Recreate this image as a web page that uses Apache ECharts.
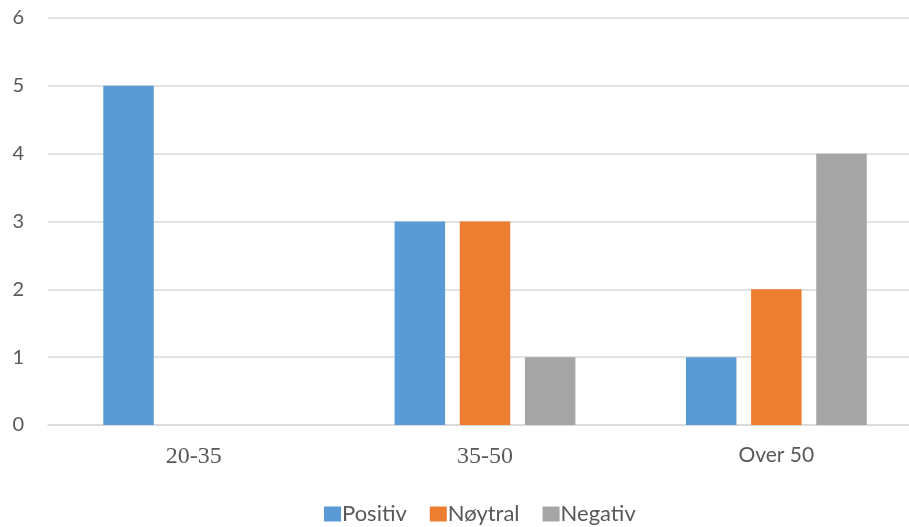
<!DOCTYPE html>
<html>
<head>
<meta charset="utf-8">
<script src="https://cdn.jsdelivr.net/npm/echarts@6/dist/echarts.min.js"></script>
<style>
  html, body { margin: 0; padding: 0; background: #fff; }
  #chart { width: 909px; height: 527px; }
</style>
</head>
<body>
<div id="chart"></div>
<script>
// Age groups and response counts per attitude
const categories = ['20-35', '35-50', 'Over 50'];
const positiv = [5, 3, 1];
const noytral = [0, 3, 2];
const negativ = [0, 1, 4];
const seriesNames = ['Positiv', 'Nøytral', 'Negativ'];
const yTicks = { min: 0, max: 6, interval: 1 };

const colors = ['#5B9BD5', '#ED7D31', '#A5A5A5'];
const sansFont = 'Lato';
const serifFont = "'Liberation Serif', 'DejaVu Serif', serif";

const chart = echarts.init(document.getElementById('chart'), null, { renderer: 'canvas' });

function barSeries(name, data, color) {
  return {
    name: name,
    type: 'bar',
    data: data,
    barWidth: 50.5,
    barGap: '29%',
    itemStyle: { color: color },
    emphasis: { disabled: true }
  };
}

chart.setOption({
  animation: false,
  grid: { left: 48, top: 18, right: -13, bottom: 102, containLabel: false, outerBoundsMode: 'none' },
  legend: {
    left: 324,
    top: 503,
    padding: 0,
    itemWidth: 17,
    itemHeight: 15,
    itemGap: 23,
    icon: 'rect',
    textStyle: { fontFamily: sansFont, fontSize: 22, color: '#595959', padding: [0, 0, 0, -4] },
    data: seriesNames
  },
  xAxis: {
    type: 'category',
    data: categories,
    axisLine: { show: true, lineStyle: { color: '#D9D9D9', width: 1.5 } },
    axisTick: { show: false },
    axisLabel: {
      margin: 20,
      formatter: function (v) { return v === 'Over 50' ? '{s|' + v + '}' : '{r|' + v + '}'; },
      rich: {
        s: { fontFamily: sansFont, fontSize: 21, color: '#595959' },
        r: { fontFamily: serifFont, fontSize: 24, color: '#595959' }
      }
    }
  },
  yAxis: {
    type: 'value',
    min: yTicks.min,
    max: yTicks.max,
    interval: yTicks.interval,
    axisLine: { show: false },
    axisTick: { show: false },
    splitLine: { lineStyle: { color: '#D9D9D9', width: 1.5 } },
    axisLabel: { margin: 24, color: '#595959', fontSize: 20, fontFamily: sansFont }
  },
  series: [
    barSeries(seriesNames[0], positiv, colors[0]),
    barSeries(seriesNames[1], noytral, colors[1]),
    barSeries(seriesNames[2], negativ, colors[2])
  ]
});
</script>
</body>
</html>
